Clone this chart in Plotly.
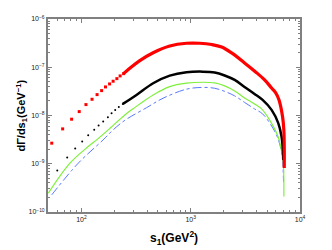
import plotly.graph_objects as go

# ---- data ----
red_dot_s = [53.5, 67.3, 81.3, 95.4, 110, 125, 139, 153, 166, 181, 195, 211, 226, 243]
red_dot_v = [2.67e-9, 5.28e-9, 8.38e-9, 1.205e-8, 1.683e-8, 2.17e-8, 2.71e-8, 3.28e-8,
             3.91e-8, 4.51e-8, 5.13e-8, 5.81e-8, 6.61e-8, 7.36e-8]
red_line_s = [243, 277, 342, 453, 643, 914, 1208, 1556, 1919, 2366, 3109, 3925, 4745,
              5495, 5976, 6430, 6920, 7112, 7178, 7178]
red_line_v = [7.36e-8, 9.53e-8, 1.371e-7, 2.00e-7, 2.76e-7, 3.14e-7, 3.14e-7, 2.96e-7,
              2.63e-7, 1.98e-7, 1.23e-7, 8.0e-8, 5.46e-8, 3.72e-8, 2.98e-8, 2.10e-8,
              9.5e-9, 5.04e-9, 1.94e-9, 8.2e-10]

black_dot_s = [60.1, 74.1, 87.7, 101.6, 115.3, 130.9, 143.6, 158.1, 174.6, 188.7, 203.6,
               219.9, 239.2]
black_dot_v = [7.23e-10, 1.343e-9, 2.07e-9, 2.88e-9, 3.91e-9, 5.04e-9, 6.18e-9, 7.48e-9,
               9.23e-9, 1.117e-8, 1.306e-8, 1.507e-8, 1.738e-8]
black_line_s = [239.2, 319, 453, 643, 914, 1288, 1657, 2045, 2523, 3109, 3837, 4547,
                5495, 6324, 6776, 6966, 7030]
black_line_v = [1.738e-8, 2.67e-8, 4.67e-8, 6.70e-8, 7.87e-8, 8.11e-8, 7.80e-8, 6.76e-8,
                5.46e-8, 3.91e-8, 2.80e-8, 2.10e-8, 1.306e-8, 6.93e-9, 3.66e-9, 1.94e-9,
                1.205e-9]

green_s = [49.8, 78.5, 115.3, 137.8, 175.8, 249.5, 297, 453, 643, 914, 1288, 1657, 2045,
           2523, 3109, 3837, 4446, 5263, 6295, 6776, 7030, 7117]
green_v = [2.46e-10, 1.028e-9, 2.27e-9, 3.13e-9, 5.04e-9, 1.028e-8, 1.38e-8, 2.67e-8,
           3.96e-8, 4.67e-8, 4.89e-8, 4.73e-8, 4.10e-8, 3.23e-8, 2.31e-8, 1.738e-8,
           1.37e-8, 8.11e-9, 3.66e-9, 1.85e-9, 1.09e-9, 2.09e-10]

blue_s = [53.5, 93.5, 158.1, 195, 249.5, 394, 558, 914, 1288, 1657, 2045, 2523, 3109,
          3837, 4547, 5296, 6095, 6549, 6879, 7063]
blue_v = [2.27e-10, 1.028e-9, 3.13e-9, 5.04e-9, 7.94e-9, 1.45e-8, 2.28e-8, 3.51e-8,
          3.82e-8, 3.67e-8, 3.16e-8, 2.55e-8, 1.87e-8, 1.37e-8, 1.08e-8, 6.93e-9,
          3.96e-9, 2.46e-9, 1.41e-9, 4.22e-10]

x_ticks = [100, 1000, 10000]
x_ticktext = ["10<sup>2</sup>", "10<sup>3</sup>", "10<sup>4</sup>"]
y_ticks = [1e-10, 1e-9, 1e-8, 1e-7, 1e-6]
y_ticktext = ["10<sup>−10</sup>", "10<sup>−9</sup>", "10<sup>−8</sup>",
              "10<sup>−7</sup>", "10<sup>−6</sup>"]

x_minor = [m * 10 ** e for e in (1, 2, 3) for m in range(2, 10) if 49 < m * 10 ** e < 10000]
y_minor = [m * 10.0 ** e for e in (-10, -9, -8, -7) for m in range(2, 10)]

fig = go.Figure()
fig.add_trace(go.Scatter(x=blue_s, y=blue_v, mode="lines",
                         line=dict(color="#5a78ff", width=1, dash="dashdot"), line_shape="spline"))
fig.add_trace(go.Scatter(x=green_s, y=green_v, mode="lines",
                         line=dict(color="#7ef03c", width=1.2), line_shape="spline"))
fig.add_trace(go.Scatter(x=black_line_s, y=black_line_v, mode="lines",
                         line=dict(color="black", width=2.5), line_shape="spline"))
fig.add_trace(go.Scatter(x=black_dot_s, y=black_dot_v, mode="markers",
                         marker=dict(color="black", size=2)))
fig.add_trace(go.Scatter(x=red_line_s, y=red_line_v, mode="lines",
                         line=dict(color="red", width=3.2), line_shape="spline"))
fig.add_trace(go.Scatter(x=red_dot_s, y=red_dot_v, mode="markers",
                         marker=dict(color="red", size=3, symbol="square")))

font_family = "Liberation Sans, Arial"
axis_common = dict(showline=True, linecolor="#808080", linewidth=2, mirror="ticks",
                   ticks="inside", ticklen=4, tickcolor="#808080", tickwidth=1,
                   showgrid=False, zeroline=False, automargin=False,
                   tickfont=dict(family=font_family, size=7, color="#222"))

fig.update_xaxes(type="log", range=[1.694, 4], tickmode="array", tickvals=x_ticks,
                 ticktext=x_ticktext,
                 minor=dict(tickmode="array", tickvals=x_minor, ticks="inside", ticklen=2,
                            tickcolor="#808080", showgrid=False),
                 **axis_common)
fig.update_yaxes(type="log", range=[-10, -6], tickmode="array", tickvals=y_ticks,
                 ticktext=y_ticktext,
                 minor=dict(tickmode="array", tickvals=y_minor, ticks="inside", ticklen=2,
                            tickcolor="#808080", showgrid=False),
                 **axis_common)

# the page body adds an 8px offset, so the figure is 8px smaller with smaller left/top margins
fig.update_layout(
    width=324, height=242, margin=dict(l=40, r=32, t=11, b=38),
    plot_bgcolor="white", paper_bgcolor="white", showlegend=False,
    annotations=[
        dict(text="<b>s<sub>1</sub>(GeV<sup>2</sup>)</b>", xref="paper", yref="paper",
             x=0.5, y=0, xanchor="center", yanchor="top", yshift=-15, showarrow=False,
             font=dict(family=font_family, size=12, color="black")),
        dict(text="<b>dΓ/ds<sub>1</sub>(GeV<sup>−1</sup>)</b>", xref="paper", yref="paper",
             x=0, y=0.5, xanchor="center", yanchor="middle", xshift=-27, textangle=-90,
             showarrow=False, font=dict(family=font_family, size=11, color="black")),
    ],
)

fig.write_html("out.html")
